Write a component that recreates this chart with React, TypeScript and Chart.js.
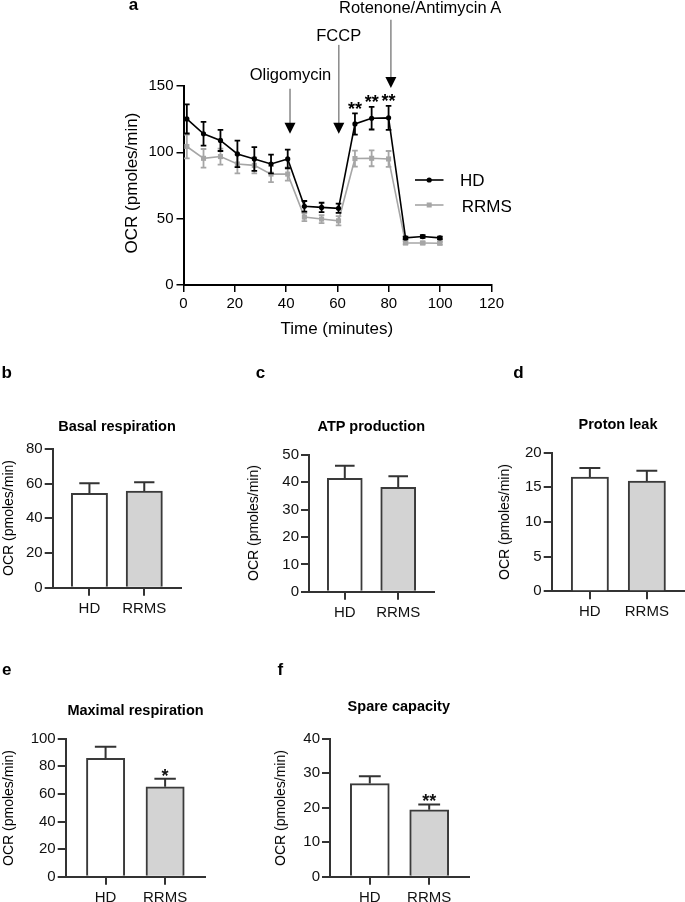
import React, { useEffect, useRef } from "react";
import { Chart, registerables } from "chart.js";

Chart.register(...registerables);

const PAGE_W = 685;
const PAGE_H = 902;
const FONT = "'Liberation Sans', Arial, Helvetica, sans-serif";
const INK = "#000000";
const BAR_INK = "#333333";
const GRAY = "#a6a6a6";

// ---------- Panel a: OCR time course ----------
const timeMinutes = [1.3, 7.8, 14.4, 21.0, 27.6, 34.1, 40.6, 47.1, 53.8, 60.4, 66.8, 73.3, 79.9, 86.5, 93.2, 99.9];
const hdOCR = [125.2, 114.0, 109.0, 98.8, 95.0, 91.2, 95.0, 59.3, 58.5, 57.8, 121.4, 125.7, 126.0, 35.5, 36.5, 35.5];
const hdSEM = [11, 9, 8, 10, 9, 7, 7, 4, 3.5, 3.5, 8, 8.5, 9, 1, 1, 1];
const rrmsOCR = [104.4, 95.5, 96.8, 91.2, 90.2, 83.6, 83.6, 51.2, 49.7, 48.4, 95.3, 95.5, 95.0, 31.7, 31.7, 31.5];
const rrmsSEM = [9, 7, 6, 7, 6, 6, 5, 3, 3, 3.5, 6, 6, 6, 1, 1, 1];
const timeSig = ["", "", "", "", "", "", "", "", "", "", "**", "**", "**", "", "", ""];
const timeTicks = [0, 20, 40, 60, 80, 100, 120];
const ocrTicks = [0, 50, 100, 150];
const injectionNames = ["Oligomycin", "FCCP", "Rotenone/Antimycin A"];
const injectionTimes = [41.5, 60.5, 80.8];
const arrowStartOCR = [148, 181, 200];
const arrowTipOCR = [114, 114, 148.5];
const seriesNames = ["HD", "RRMS"];

// ---------- Panels b-f: bar charts ----------
const groups = ["HD", "RRMS"];
const basalMean = [54.4, 55.8];
const basalSEM = [5.8, 5.0];
const basalSig = ["", ""];
const basalTicks = [0, 20, 40, 60, 80];

const atpMean = [41.5, 38.2];
const atpSEM = [4.6, 4.0];
const atpSig = ["", ""];
const atpTicks = [0, 10, 20, 30, 40, 50];

const leakMean = [16.5, 15.9];
const leakSEM = [1.3, 1.5];
const leakSig = ["", ""];
const leakTicks = [0, 5, 10, 15, 20];

const maximalMean = [85.7, 65.2];
const maximalSEM = [8.5, 5.8];
const maximalSig = ["", "*"];
const maximalTicks = [0, 20, 40, 60, 80, 100];

const spareMean = [27.0, 19.4];
const spareSEM = [2.1, 1.5];
const spareSig = ["", "**"];
const spareTicks = [0, 10, 20, 30, 40];

// ---------- layout helpers ----------
type Area = { l: number; t: number; r: number; b: number };

// Each chart lives on a full-page canvas; the scale boxes fill all space
// to the left of / below the plot area so tick labels are never clipped.
function areaPadding(a: Area) {
  return { left: 0, top: a.t, right: PAGE_W - a.r, bottom: 0 };
}

function fixTicks(values: number[]) {
  return (s: any) => {
    s.ticks = values.map((v) => ({ value: v }));
  };
}

const baseOptions = {
  responsive: false,
  animation: false as const,
  devicePixelRatio: 1,
  events: [] as any[],
  plugins: { legend: { display: false }, tooltip: { enabled: false }, title: { display: false } },
};

// ---------- plugins ----------
const timeCoursePlugin = {
  id: "timeCourse",
  afterDatasetDraw(chart: any, args: any) {
    const ds = chart.data.datasets[args.index];
    const xs = chart.scales.x;
    const ys = chart.scales.y;
    const ctx = chart.ctx;
    ctx.save();
    ctx.strokeStyle = ds.borderColor;
    ctx.lineWidth = 1.8;
    ds.data.forEach((p: any, i: number) => {
      const x = xs.getPixelForValue(p.x);
      const y1 = ys.getPixelForValue(p.y + ds.errors[i]);
      const y2 = ys.getPixelForValue(p.y - ds.errors[i]);
      ctx.beginPath();
      ctx.moveTo(x, y1);
      ctx.lineTo(x, y2);
      ctx.moveTo(x - 2.8, y1);
      ctx.lineTo(x + 2.8, y1);
      ctx.moveTo(x - 2.8, y2);
      ctx.lineTo(x + 2.8, y2);
      ctx.stroke();
    });
    ctx.restore();
  },
  afterDraw(chart: any) {
    const xs = chart.scales.x;
    const ys = chart.scales.y;
    const ctx = chart.ctx;
    ctx.save();
    // injection arrows
    injectionTimes.forEach((t, i) => {
      const x = xs.getPixelForValue(t);
      const y0 = ys.getPixelForValue(arrowStartOCR[i]);
      const yTip = ys.getPixelForValue(arrowTipOCR[i]);
      const headH = 11;
      const headW = 5.5;
      ctx.strokeStyle = "#8f8f8f";
      ctx.lineWidth = 1.6;
      ctx.beginPath();
      ctx.moveTo(x, y0);
      ctx.lineTo(x, yTip - headH + 1);
      ctx.stroke();
      ctx.fillStyle = INK;
      ctx.beginPath();
      ctx.moveTo(x - headW, yTip - headH);
      ctx.lineTo(x + headW, yTip - headH);
      ctx.lineTo(x, yTip);
      ctx.closePath();
      ctx.fill();
    });
    // significance
    ctx.fillStyle = INK;
    ctx.font = `bold 18px ${FONT}`;
    ctx.textAlign = "center";
    ctx.textBaseline = "alphabetic";
    timeSig.forEach((s, i) => {
      if (!s) return;
      const x = xs.getPixelForValue(timeMinutes[i]);
      const yTop = ys.getPixelForValue(hdOCR[i] + hdSEM[i]);
      ctx.fillText(s, x, yTop - 9 + 0.575 * 18);
    });
    // legend symbols
    const legendY = [180, 205];
    chart.data.datasets.forEach((ds: any, i: number) => {
      const y = legendY[i];
      ctx.strokeStyle = ds.borderColor;
      ctx.lineWidth = 1.6;
      ctx.beginPath();
      ctx.moveTo(415, y);
      ctx.lineTo(443.5, y);
      ctx.stroke();
      ctx.fillStyle = ds.pointBackgroundColor;
      if (ds.pointStyle === "rect") {
        ctx.fillRect(429.2 - 2.5, y - 2.5, 5, 5);
      } else {
        ctx.beginPath();
        ctx.arc(429.2, y, 2.6, 0, Math.PI * 2);
        ctx.fill();
      }
    });
    ctx.restore();
  },
};

const barExtrasPlugin = {
  id: "barExtras",
  afterDatasetsDraw(chart: any) {
    const ds = chart.data.datasets[0];
    const xs = chart.scales.x;
    const ys = chart.scales.y;
    const ctx = chart.ctx;
    ctx.save();
    ctx.strokeStyle = BAR_INK;
    ctx.lineWidth = 2;
    ds.data.forEach((p: any, i: number) => {
      const x = xs.getPixelForValue(p.x);
      const yv = ys.getPixelForValue(p.y);
      const yt = ys.getPixelForValue(p.y + ds.errors[i]);
      const cap = ds.barThickness * 0.28;
      ctx.beginPath();
      ctx.moveTo(x, yv);
      ctx.lineTo(x, yt);
      ctx.moveTo(x - cap, yt);
      ctx.lineTo(x + cap, yt);
      ctx.stroke();
      if (ds.sig[i]) {
        ctx.fillStyle = "#111";
        ctx.font = `bold 18px ${FONT}`;
        ctx.textAlign = "center";
        ctx.textBaseline = "alphabetic";
        ctx.fillText(ds.sig[i], x, yt - 7.5 + 0.575 * 18);
      }
    });
    ctx.restore();
  },
};

// ---------- chart configs ----------
function timeCourseConfig() {
  const area: Area = { l: 183.5, t: 86, r: 491.5, b: 285 };
  const axisCommon = {
    type: "linear" as const,
    offset: false,
    grid: { drawOnChartArea: false, drawTicks: true, tickLength: 7, color: INK, lineWidth: 1.5, offset: false },
    border: { display: true, color: INK, width: 2 },
    ticks: { color: INK, font: { family: FONT, size: 15 }, padding: 3, autoSkip: false, maxRotation: 0 },
  };
  return {
    type: "line",
    data: {
      datasets: [
        {
          label: seriesNames[0],
          data: timeMinutes.map((t, i) => ({ x: t, y: hdOCR[i] })),
          errors: hdSEM,
          borderColor: INK,
          backgroundColor: INK,
          pointBackgroundColor: INK,
          pointBorderColor: INK,
          pointBorderWidth: 0,
          pointRadius: 2.6,
          pointStyle: "circle",
          borderWidth: 1.6,
          tension: 0,
          clip: false,
        },
        {
          label: seriesNames[1],
          data: timeMinutes.map((t, i) => ({ x: t, y: rrmsOCR[i] })),
          errors: rrmsSEM,
          borderColor: GRAY,
          backgroundColor: GRAY,
          pointBackgroundColor: GRAY,
          pointBorderColor: GRAY,
          pointBorderWidth: 0,
          pointRadius: 3.6,
          pointStyle: "rect",
          borderWidth: 1.6,
          tension: 0,
          clip: false,
        },
      ],
    },
    options: {
      ...baseOptions,
      layout: { padding: areaPadding(area) },
      scales: {
        x: {
          ...axisCommon,
          min: timeTicks[0],
          max: timeTicks[timeTicks.length - 1],
          afterBuildTicks: fixTicks(timeTicks),
          afterFit: (s: any) => {
            s.height = PAGE_H - area.b;
          },
        },
        y: {
          ...axisCommon,
          min: ocrTicks[0],
          max: ocrTicks[ocrTicks.length - 1],
          afterBuildTicks: fixTicks(ocrTicks),
          afterFit: (s: any) => {
            s.width = area.l;
          },
        },
      },
    },
    plugins: [timeCoursePlugin],
  };
}

function barConfig(
  mean: number[],
  sem: number[],
  sig: string[],
  ticks: number[],
  area: Area,
  thickness: number
) {
  const axisCommon = {
    type: "linear" as const,
    offset: false,
    grid: { drawOnChartArea: false, drawTicks: true, tickLength: 8, color: BAR_INK, lineWidth: 2, offset: false },
    border: { display: true, color: BAR_INK, width: 2 },
  };
  return {
    type: "bar",
    data: {
      datasets: [
        {
          data: groups.map((_, i) => ({ x: i, y: mean[i] })),
          errors: sem,
          sig,
          backgroundColor: ["#ffffff", "#d3d3d3"],
          borderColor: "#3a3a3a",
          borderWidth: 2,
          borderSkipped: "bottom",
          barThickness: thickness,
        },
      ],
    },
    options: {
      ...baseOptions,
      layout: { padding: areaPadding(area) },
      scales: {
        x: {
          ...axisCommon,
          min: -0.67,
          max: 1.67,
          afterBuildTicks: fixTicks(groups.map((_, i) => i)),
          afterFit: (s: any) => {
            s.height = PAGE_H - area.b;
          },
          ticks: {
            color: "#111",
            font: { family: FONT, size: 15 },
            padding: 4,
            autoSkip: false,
            maxRotation: 0,
            callback: (v: any) => groups[v] ?? "",
          },
        },
        y: {
          ...axisCommon,
          min: ticks[0],
          max: ticks[ticks.length - 1],
          afterBuildTicks: fixTicks(ticks),
          afterFit: (s: any) => {
            s.width = area.l;
          },
          ticks: { color: "#111", font: { family: FONT, size: 15 }, padding: 2, autoSkip: false },
        },
      },
    },
    plugins: [barExtrasPlugin],
  };
}

const builders: (() => any)[] = [
  timeCourseConfig,
  () => barConfig(basalMean, basalSEM, basalSig, basalTicks, { l: 52.7, t: 449, r: 181, b: 587.7 }, 36.3),
  () => barConfig(atpMean, atpSEM, atpSig, atpTicks, { l: 309, t: 455, r: 434, b: 591.7 }, 35),
  () => barConfig(leakMean, leakSEM, leakSig, leakTicks, { l: 551.7, t: 452.7, r: 685, b: 591.3 }, 37.3),
  () => barConfig(maximalMean, maximalSEM, maximalSig, maximalTicks, { l: 65.7, t: 738.7, r: 205, b: 876.7 }, 38.3),
  () => barConfig(spareMean, spareSEM, spareSig, spareTicks, { l: 330, t: 738.7, r: 469, b: 876.7 }, 39),
];

function ChartCanvas({ build }: { build: () => any }) {
  const ref = useRef<HTMLCanvasElement>(null);
  useEffect(() => {
    if (!ref.current) return;
    const chart = new Chart(ref.current, build());
    return () => chart.destroy();
  }, [build]);
  return (
    <canvas
      ref={ref}
      width={PAGE_W}
      height={PAGE_H}
      style={{ position: "absolute", left: 0, top: 0, width: PAGE_W, height: PAGE_H }}
    />
  );
}

function Txt({
  x,
  y,
  size,
  bold = false,
  rotate = false,
  left = false,
  children,
}: {
  x: number;
  y: number;
  size: number;
  bold?: boolean;
  rotate?: boolean;
  left?: boolean;
  children: React.ReactNode;
}) {
  return (
    <div
      style={{
        position: "absolute",
        left: x,
        top: y,
        transform: `translate(${left ? "0" : "-50%"},-50%)${rotate ? " rotate(-90deg)" : ""}`,
        fontFamily: FONT,
        fontSize: size,
        fontWeight: bold ? 700 : 400,
        lineHeight: 1,
        whiteSpace: "nowrap",
        color: "#000",
      }}
    >
      {children}
    </div>
  );
}

const yTitle = "OCR (pmoles/min)";

export default function App() {
  return (
    <div
      style={{
        position: "absolute",
        left: 0,
        top: 0,
        width: PAGE_W,
        height: PAGE_H,
        overflow: "hidden",
        background: "#ffffff",
      }}
    >
      {builders.map((b, i) => (
        <ChartCanvas key={i} build={b} />
      ))}

      {/* panel letters */}
      <Txt x={133.5} y={3.5} size={17} bold>a</Txt>
      <Txt x={6.7} y={372} size={17} bold>b</Txt>
      <Txt x={260.5} y={372} size={17} bold>c</Txt>
      <Txt x={518.5} y={372} size={17} bold>d</Txt>
      <Txt x={6.7} y={669} size={17} bold>e</Txt>
      <Txt x={280.3} y={669} size={17} bold>f</Txt>

      {/* panel a texts */}
      <Txt x={130.7} y={183.3} size={17} rotate>{yTitle}</Txt>
      <Txt x={336.8} y={327.5} size={17}>Time (minutes)</Txt>
      <Txt x={290.5} y={73.8} size={16.5}>{injectionNames[0]}</Txt>
      <Txt x={338.7} y={34.7} size={16.5}>{injectionNames[1]}</Txt>
      <Txt x={420.2} y={7.2} size={16.5}>{injectionNames[2]}</Txt>
      <Txt x={460} y={180.3} size={17} left>{seriesNames[0]}</Txt>
      <Txt x={461.7} y={205.5} size={17} left>{seriesNames[1]}</Txt>

      {/* bar panel titles */}
      <Txt x={117} y={425.8} size={14.5} bold>Basal respiration</Txt>
      <Txt x={371.3} y={425.8} size={14.5} bold>ATP production</Txt>
      <Txt x={618} y={423.8} size={14.5} bold>Proton leak</Txt>
      <Txt x={135.5} y={710.2} size={14.5} bold>Maximal respiration</Txt>
      <Txt x={398.8} y={705.8} size={14.5} bold>Spare capacity</Txt>

      {/* bar panel y titles */}
      <Txt x={7.5} y={518.3} size={14} rotate>{yTitle}</Txt>
      <Txt x={253} y={523.3} size={14} rotate>{yTitle}</Txt>
      <Txt x={504} y={521.7} size={14} rotate>{yTitle}</Txt>
      <Txt x={8.3} y={808.3} size={14} rotate>{yTitle}</Txt>
      <Txt x={280} y={808.3} size={14} rotate>{yTitle}</Txt>
    </div>
  );
}
